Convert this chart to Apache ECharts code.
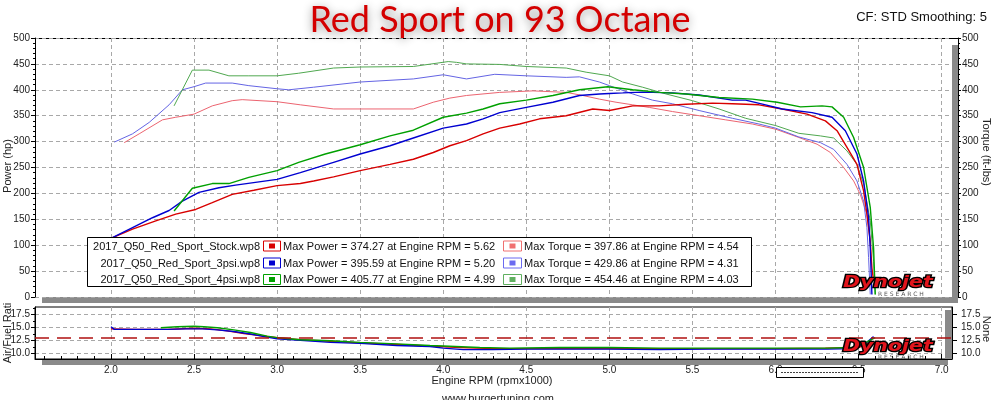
<!DOCTYPE html>
<html><head><meta charset="utf-8">
<script src="https://cdn.jsdelivr.net/npm/echarts@6/dist/echarts.min.js"></script>
<style>html,body{margin:0;padding:0;background:#fff}#c{width:1000px;height:400px}</style>
</head><body><div id="c"></div>
<script>
// ---------- tick values / labels ----------
const xTickValues = [2.0, 2.5, 3.0, 3.5, 4.0, 4.5, 5.0, 5.5, 6.0, 6.5, 7.0];
const xTickLabels = ['2.0', '2.5', '3.0', '3.5', '4.0', '4.5', '5.0', '5.5', '6.0', '6.5', '7.0'];
const afrTickValues = [10, 12.5, 15, 17.5];
const afrTickLabels = ['10.0', '12.5', '15.0', '17.5'];
const afrMinorTicks = [11.25, 13.75, 16.25, 18.75];
const afrTarget = 13.0;

// ---------- legend text ----------
const runFiles = ['2017_Q50_Red_Sport_Stock.wp8', '2017_Q50_Red_Sport_3psi.wp8', '2017_Q50_Red_Sport_4psi.wp8'];
const maxPower = ['374.27', '395.59', '405.77'];
const maxPowerRpm = ['5.62', '5.20', '4.99'];
const maxTorque = ['397.86', '429.86', '454.46'];
const maxTorqueRpm = ['4.54', '4.31', '4.03'];

// ---------- Stock ----------
const stockPowerRpm = [2.00,2.13,2.27,2.39,2.51,2.61,2.73,2.86,3.00,3.14,3.22,3.34,3.50,3.68,3.82,3.94,4.04,4.14,4.24,4.34,4.46,4.58,4.74,4.90,5.00,5.14,5.30,5.46,5.62,5.74,5.90,6.04,6.19,6.30,6.37,6.43,6.49,6.53,6.55,6.57,6.58,6.59];
const stockPower    = [113,131,147,160,169,182,198,206,215,219,224,232,244,256,266,279,292,302,315,326,334,344,350,363,360,369,369,372,374.3,373,371,363,353,340,321,289,256,205,160,108,56,31];
const stockTorqueRpm = [2.08,2.17,2.31,2.39,2.50,2.61,2.73,2.79,3.00,3.14,3.34,3.50,3.82,3.94,4.04,4.14,4.34,4.54,4.74,4.84,4.94,5.04,5.14,5.24,5.38,5.54,5.70,5.86,6.00,6.14,6.25,6.33,6.41,6.47,6.51,6.55,6.57];
const stockTorque    = [298,315,342,347,353,369,379,381,377,371,363,363,363,376,384,389,395,397.9,395,389,382,376,371,366,358,350,342,334,324,308,295,279,250,224,198,160,108];
const stockAfrRpm = [2.00,2.15,2.34,2.50,2.60,2.70,2.80,2.90,3.00,3.14,3.32,3.50,3.72,3.92,4.10,4.30,4.50,4.75,5.00,5.30,5.60,6.00,6.30,6.50,6.56];
const stockAfr    = [14.7,14.6,14.6,14.8,14.7,14.3,13.8,13.4,13.0,12.6,12.3,12.0,11.7,11.4,11.1,10.9,10.9,10.9,10.9,10.9,10.9,10.9,11.0,11.1,12.0];

// ---------- 3 psi ----------
const psi3PowerRpm = [2.00,2.13,2.25,2.35,2.43,2.53,2.65,2.75,3.00,3.14,3.34,3.50,3.68,3.82,4.00,4.14,4.24,4.34,4.50,4.66,4.82,4.94,5.00,5.08,5.20,5.38,5.54,5.74,5.82,5.94,6.04,6.22,6.34,6.42,6.49,6.53,6.56,6.57,6.58];
const psi3Power    = [113,134,153,167,185,202,211,216,227,240,260,276,292,307,326,334,344,356,366,376,389,392,393,394,395.6,394,390,380,380,371,363,356,347,321,276,224,153,95,5];
const psi3TorqueRpm = [2.02,2.13,2.23,2.35,2.43,2.50,2.57,2.73,2.83,3.00,3.07,3.22,3.50,3.82,4.00,4.14,4.31,4.50,4.74,4.82,4.94,5.00,5.14,5.26,5.38,5.54,5.74,5.90,6.00,6.14,6.27,6.35,6.43,6.49,6.53,6.55,6.56,6.57];
const psi3Torque    = [299,315,337,371,400,406,413,413,408,402,400,405,415,421,429,421,429.9,427,424,425,415,408,392,380,373,360,345,334,326,309,298,285,256,224,185,134,76,5];
const psi3AfrRpm = [2.00,2.02,2.15,2.34,2.45,2.55,2.64,2.74,2.84,2.94,3.00,3.14,3.32,3.50,3.72,3.92,4.00,4.12,4.30,4.50,4.80,5.00,5.30,5.60,5.81,6.00,6.31,6.47,6.55,6.59];
const psi3Afr    = [15.1,14.6,14.6,14.6,14.7,14.7,14.5,14.2,13.7,13.1,12.8,12.5,12.1,11.9,11.5,11.3,11.0,10.7,10.7,10.8,10.8,10.8,10.7,10.8,10.8,10.8,10.8,10.9,12.1,13.2];

// ---------- 4 psi ----------
const psi4PowerRpm = [2.38,2.49,2.61,2.71,2.83,3.00,3.13,3.29,3.50,3.68,3.82,4.00,4.14,4.24,4.34,4.50,4.66,4.82,4.99,5.14,5.30,5.46,5.66,5.86,6.01,6.15,6.28,6.34,6.41,6.47,6.53,6.57,6.59,6.60];
const psi4Power    = [166,210,219,219,231,244,260,276,294,311,322,347,355,363,373,380,389,400,405.8,400,395,392,385,382,376,367,369,367,347,308,250,173,95,5];
const psi4TorqueRpm = [2.38,2.49,2.59,2.71,2.83,3.00,3.13,3.34,3.50,3.82,4.03,4.08,4.14,4.34,4.50,4.74,4.86,5.00,5.08,5.20,5.34,5.50,5.66,5.82,6.00,6.14,6.27,6.35,6.43,6.49,6.53,6.57,6.59,6.60];
const psi4Torque    = [369,438,438,427,427,427,432,442,444,445,454.5,453,450,449,445,442,434,427,415,405,392,379,363,345,331,316,311,307,282,256,218,147,69,5];
const psi4AfrRpm = [2.30,2.40,2.50,2.56,2.64,2.74,2.84,2.94,3.00,3.14,3.32,3.50,3.72,3.92,4.00,4.22,4.40,4.70,5.00,5.30,5.60,5.81,6.00,6.31,6.47,6.55,6.60];
const psi4Afr    = [14.9,15.1,15.2,15.1,14.9,14.5,14.0,13.3,13.0,12.6,12.4,12.1,11.8,11.5,11.4,11.1,11.0,11.1,11.1,11.0,11.0,11.0,11.0,11.0,11.1,12.2,13.0];

// ---------- build ----------
const pair = (xs, ys) => xs.map((x, i) => [x, ys[i]]);
const X_MIN = 1.543, X_MAX = 7.062;
const xMinorTicks = [];
for (let k = 16; k <= 70; k++) xMinorTicks.push(k / 10);

const C = {
  pRed: '#d80000', pBlue: '#0000d0', pGreen: '#00a000',
  tRed: '#ec6470', tBlue: '#6464e4', tGreen: '#50a850'
};
const FONT = 'Liberation Sans';
const gridLine = { show: true, lineStyle: { color: '#a8a8a8', type: [4, 3], width: 1 } };
const lbl = { fontFamily: FONT, fontSize: 10, color: '#222' };

function line(name, data, color, width, xi, yi) {
  return { name, type: 'line', data, xAxisIndex: xi, yAxisIndex: yi, symbol: 'none', smooth: false,
    lineStyle: { color, width }, itemStyle: { color }, silent: true, animation: false, z: 3 };
}

const series = [
  line('Stock Torque', pair(stockTorqueRpm, stockTorque), C.tRed, 1, 0, 1),
  line('3psi Torque', pair(psi3TorqueRpm, psi3Torque), C.tBlue, 1, 0, 1),
  line('4psi Torque', pair(psi4TorqueRpm, psi4Torque), C.tGreen, 1, 0, 1),
  line('Stock Power', pair(stockPowerRpm, stockPower), C.pRed, 1.4, 0, 0),
  line('3psi Power', pair(psi3PowerRpm, psi3Power), C.pBlue, 1.4, 0, 0),
  line('4psi Power', pair(psi4PowerRpm, psi4Power), C.pGreen, 1.4, 0, 0),
  Object.assign(line('Stock AFR', pair(stockAfrRpm, stockAfr), C.pRed, 1.4, 1, 2), {
    markLine: { silent: true, symbol: 'none', label: { show: false },
      lineStyle: { color: '#b01010', type: [14, 8], width: 1.5 }, data: [{ yAxis: afrTarget }] }
  }),
  line('3psi AFR', pair(psi3AfrRpm, psi3Afr), C.pBlue, 1.4, 1, 2),
  line('4psi AFR', pair(psi4AfrRpm, psi4Afr), C.pGreen, 1.4, 1, 2)
];

const graphic = [];
// title
graphic.push({ type: 'text', x: 500, y: 20, z: 10, style: { text: 'Red Sport on 93 Octane', font: '36px Lato', fill: '#d40000',
  align: 'center', verticalAlign: 'middle', textShadowColor: 'rgba(0,0,0,0.45)', textShadowBlur: 10, textShadowOffsetY: 2 } });
graphic.push({ type: 'text', x: 987, y: 17, style: { text: 'CF: STD Smoothing: 5', font: '13px "Liberation Sans"', fill: '#111', align: 'right', verticalAlign: 'middle' } });
// frame pieces
graphic.push({ type: 'line', shape: { x1: 35, y1: 38.5, x2: 958, y2: 38.5 }, style: { stroke: '#000', lineWidth: 1 } });
graphic.push({ type: 'rect', shape: { x: 42, y: 297, width: 916, height: 6 }, style: { fill: '#8a8a8a' } });
graphic.push({ type: 'rect', shape: { x: 952, y: 45, width: 6, height: 252 }, style: { fill: '#8a8a8a' } });
graphic.push({ type: 'rect', shape: { x: 945, y: 310, width: 7, height: 49 }, style: { fill: '#8a8a8a' }, z: 5 });
graphic.push({ type: 'rect', shape: { x: 42, y: 360, width: 906, height: 5 }, style: { fill: '#8a8a8a' } });
// axis names
graphic.push({ type: 'text', x: 8, y: 166, rotation: Math.PI / 2, style: { text: 'Power (hp)', font: '11px "Liberation Sans"', fill: '#222', align: 'center', verticalAlign: 'middle' } });
graphic.push({ type: 'text', x: 986, y: 152, rotation: -Math.PI / 2, style: { text: 'Torque (ft-lbs)', font: '11px "Liberation Sans"', fill: '#222', align: 'center', verticalAlign: 'middle' } });
graphic.push({ type: 'text', x: 8, y: 333, rotation: Math.PI / 2, style: { text: 'Air/Fuel Rati', font: '11px "Liberation Sans"', fill: '#222', align: 'center', verticalAlign: 'middle' } });
graphic.push({ type: 'text', x: 986, y: 329, rotation: -Math.PI / 2, style: { text: 'None', font: '11px "Liberation Sans"', fill: '#222', align: 'center', verticalAlign: 'middle' } });
graphic.push({ type: 'text', x: 492, y: 381, style: { text: 'Engine RPM (rpmx1000)', font: '11px "Liberation Sans"', fill: '#222', align: 'center', verticalAlign: 'middle' } });
graphic.push({ type: 'text', x: 498, y: 399, style: { text: 'www.burgertuning.com', font: '11px "Liberation Sans"', fill: '#222', align: 'center', verticalAlign: 'middle' } });
// legend box
const rowY = [246.5, 263.5, 280];
const pColors = [C.pRed, C.pBlue, C.pGreen];
const tColors = ['#f07070', '#6a6af0', '#60b060'];
graphic.push({ type: 'rect', z: 20, shape: { x: 87.5, y: 237.5, width: 664, height: 49 }, style: { fill: '#fff', stroke: '#000', lineWidth: 1 } });
for (let i = 0; i < 3; i++) {
  const y = rowY[i];
  graphic.push({ type: 'text', z: 21, x: 260, y, style: { text: runFiles[i], font: '11px "Liberation Sans"', fill: '#111', align: 'right', verticalAlign: 'middle' } });
  graphic.push({ type: 'rect', z: 21, shape: { x: 263.5, y: y - 5.5, width: 17, height: 10 }, style: { fill: '#fff', stroke: pColors[i], lineWidth: 1 } });
  graphic.push({ type: 'rect', z: 22, shape: { x: 269, y: y - 3, width: 6, height: 5 }, style: { fill: pColors[i] } });
  graphic.push({ type: 'text', z: 21, x: 283, y, style: { text: 'Max Power = ' + maxPower[i] + ' at Engine RPM = ' + maxPowerRpm[i], font: '11px "Liberation Sans"', fill: '#111', align: 'left', verticalAlign: 'middle' } });
  graphic.push({ type: 'rect', z: 21, shape: { x: 503.5, y: y - 5.5, width: 18, height: 10 }, style: { fill: '#fff', stroke: tColors[i], lineWidth: 1 } });
  graphic.push({ type: 'rect', z: 22, shape: { x: 509.5, y: y - 3, width: 6, height: 5 }, style: { fill: tColors[i] } });
  graphic.push({ type: 'text', z: 21, x: 524, y, style: { text: 'Max Torque = ' + maxTorque[i] + ' at Engine RPM = ' + maxTorqueRpm[i], font: '11px "Liberation Sans"', fill: '#111', align: 'left', verticalAlign: 'middle' } });
}
// dynojet logos
[[283, 294], [347, 357]].forEach(([ly, ry]) => {
  graphic.push({ type: 'text', z: 8, x: 843, y: ly, scaleX: 1.28, style: { text: 'Dynojet', font: 'italic bold 16px "DejaVu Sans"', fill: '#e0141c', stroke: '#000', lineWidth: 2.5, align: 'left', verticalAlign: 'middle' } });
  graphic.push({ type: 'text', z: 8, x: 878, y: ry, style: { text: 'R E S E A R C H', font: '6px "DejaVu Sans"', fill: '#555', align: 'left', verticalAlign: 'middle' } });
});
// small box under lower panel
graphic.push({ type: 'rect', z: 50, shape: { x: 776.5, y: 367.5, width: 87, height: 10 }, style: { fill: '#fff', stroke: '#000', lineWidth: 1 } });
graphic.push({ type: 'line', z: 51, shape: { x1: 781, y1: 372.5, x2: 859, y2: 372.5 }, style: { stroke: '#444', lineWidth: 1, lineDash: [2, 1] } });

const option = {
  backgroundColor: '#fff',
  animation: false,
  grid: [
    { left: 35, top: 38, width: 917, height: 259 },
    { left: 35, top: 307, width: 917, height: 52, show: true, borderColor: '#000', borderWidth: 1, backgroundColor: 'transparent' }
  ],
  xAxis: [
    { gridIndex: 0, type: 'value', min: X_MIN, max: X_MAX, position: 'bottom',
      axisLine: { show: false }, axisTick: { show: false, customValues: xTickValues },
      axisLabel: { show: false, customValues: xTickValues }, splitLine: gridLine },
    { gridIndex: 1, type: 'value', min: X_MIN, max: X_MAX, position: 'bottom',
      axisLine: { show: true, onZero: false, lineStyle: { color: '#000', width: 1 } },
      axisTick: { show: true, inside: true, length: 5, customValues: xTickValues, lineStyle: { color: '#000' } },
      axisLabel: Object.assign({ customValues: xTickValues, margin: 6, formatter: v => xTickLabels[xTickValues.indexOf(Math.round(v * 10) / 10)] || '' }, lbl),
      splitLine: gridLine },
    { gridIndex: 1, type: 'value', min: X_MIN, max: X_MAX, position: 'bottom',
      axisLine: { show: false }, axisTick: { show: true, inside: true, length: 3, customValues: xMinorTicks, lineStyle: { color: '#000' } },
      axisLabel: { show: false, customValues: xMinorTicks }, splitLine: { show: false } }
  ],
  yAxis: [
    { gridIndex: 0, type: 'value', min: 0, max: 500, interval: 50, position: 'left',
      axisLine: { show: true, lineStyle: { color: '#000' } },
      axisTick: { show: true, length: 4, lineStyle: { color: '#000' } },
      minorTick: { show: true, splitNumber: 5, length: 2, lineStyle: { color: '#000' } },
      axisLabel: Object.assign({ margin: 5 }, lbl), splitLine: gridLine },
    { gridIndex: 0, type: 'value', min: 0, max: 500, interval: 50, position: 'right', offset: 6,
      axisLine: { show: true, lineStyle: { color: '#000' } },
      axisTick: { show: true, length: 3, lineStyle: { color: '#000' } },
      minorTick: { show: true, splitNumber: 5, length: 2, lineStyle: { color: '#000' } },
      axisLabel: Object.assign({ margin: 4 }, lbl), splitLine: { show: false } },
    { gridIndex: 1, type: 'value', min: 8.9, max: 18.9, position: 'left',
      axisLine: { show: true, lineStyle: { color: '#000' } },
      axisTick: { show: true, length: 4, customValues: afrTickValues, lineStyle: { color: '#000' } },
      axisLabel: Object.assign({ margin: 5, customValues: afrTickValues, formatter: v => afrTickLabels[afrTickValues.indexOf(v)] || '' }, lbl),
      splitLine: gridLine },
    { gridIndex: 1, type: 'value', min: 8.9, max: 18.9, position: 'right',
      axisLine: { show: true, lineStyle: { color: '#000' } },
      axisTick: { show: true, length: 5, customValues: afrTickValues, lineStyle: { color: '#000' } },
      axisLabel: Object.assign({ margin: 9, customValues: afrTickValues, formatter: v => afrTickLabels[afrTickValues.indexOf(v)] || '' }, lbl),
      splitLine: { show: false } },
    { gridIndex: 1, type: 'value', min: 8.9, max: 18.9, position: 'left',
      axisLine: { show: false }, axisTick: { show: true, length: 2, customValues: afrMinorTicks, lineStyle: { color: '#000' } },
      axisLabel: { show: false, customValues: afrMinorTicks }, splitLine: { show: false } }
  ],
  series,
  graphic
};
const chart = echarts.init(document.getElementById('c'), null, { renderer: 'canvas' });
chart.setOption(option);
</script>
</body></html>
